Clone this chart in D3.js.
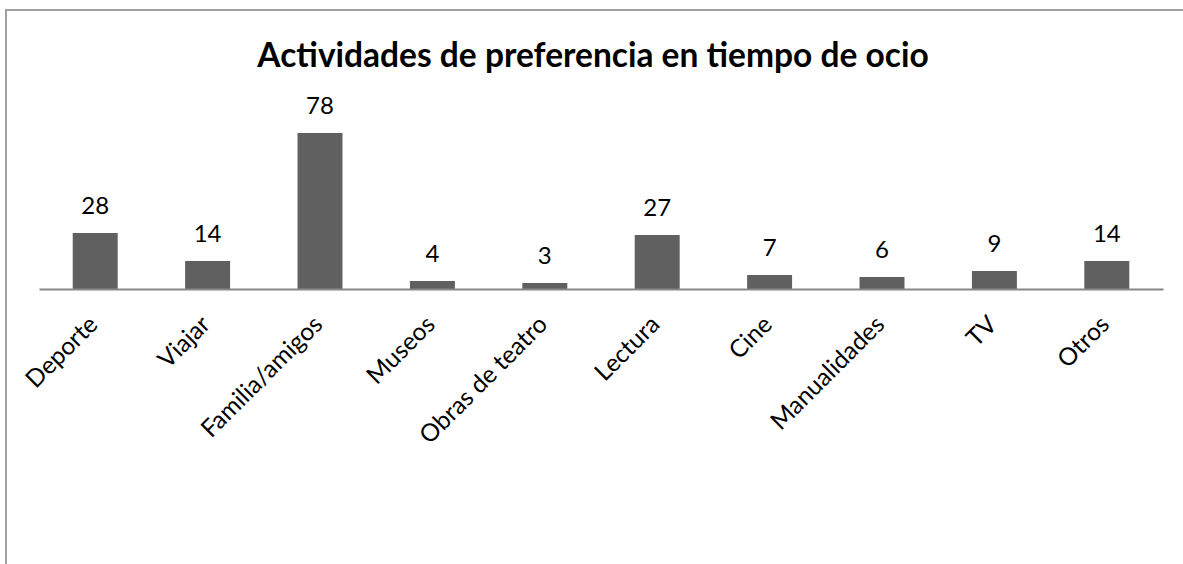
<!DOCTYPE html>
<html>
<head>
  <meta charset="UTF-8">
  <title>Actividades de preferencia</title>
  <style>
    body { margin: 0; background: #fff; }
    svg { display: block; }
  </style>
</head>
<body>
  <script src="https://d3js.org/d3.v7.min.js"></script>
  <script>
  //data
  var categories = ["Deporte", "Viajar", "Familia/amigos", "Museos", "Obras de teatro",
    "Lectura", "Cine", "Manualidades", "TV", "Otros"];
  var values = [28, 14, 78, 4, 3, 27, 7, 6, 9, 14];
  var title = "Actividades de preferencia en tiempo de ocio";

  //variables
  var width = 1183;
  var height = 564;
  var axisY = 289;
  var left = 39;
  var right = 1163;
  var font = "Lato, 'Open Sans', sans-serif";

  var svg = d3.select("body")
    .append("svg")
    .attr("width", width)
    .attr("height", height);

  //frame
  svg.append("rect")
    .attr("x", 6)
    .attr("y", 10)
    .attr("width", width + 20)
    .attr("height", height + 20)
    .attr("fill", "none")
    .attr("stroke", "#a0a0a0")
    .attr("stroke-width", 2);

  //title
  svg.append("text")
    .attr("x", 593)
    .attr("y", 67)
    .attr("text-anchor", "middle")
    .attr("font-family", font)
    .attr("font-weight", "bold")
    .attr("font-size", 33.5)
    .attr("fill", "#000")
    .text(title);

  //scales
  var x = d3.scaleBand()
    .domain(categories)
    .range([left, right])
    .paddingInner(0.6)
    .paddingOuter(0.3);

  var y = d3.scaleLinear()
    .domain([0, 80])
    .range([axisY, axisY - 160]);

  //bars
  svg.selectAll(".bar")
    .data(values)
    .enter()
    .append("rect")
    .attr("class", "bar")
    .attr("x", (d, i) => x(categories[i]))
    .attr("y", d => y(d))
    .attr("width", x.bandwidth())
    .attr("height", d => y(0) - y(d))
    .attr("fill", "#606060");

  //value labels
  svg.selectAll(".val")
    .data(values)
    .enter()
    .append("text")
    .attr("class", "val")
    .attr("x", (d, i) => x(categories[i]) + x.bandwidth() / 2)
    .attr("y", d => y(d) - 19)
    .attr("text-anchor", "middle")
    .attr("font-family", font)
    .attr("font-size", 24)
    .attr("fill", "#000")
    .text(d => d);

  //axis
  var xAxis = d3.axisBottom(x).tickSize(0).tickPadding(0);
  var gx = svg.append("g")
    .attr("transform", `translate(0,${axisY})`)
    .call(xAxis);

  gx.select(".domain")
    .attr("stroke", "#888")
    .attr("stroke-width", 2);

  gx.selectAll(".tick text")
    .attr("font-family", font)
    .attr("font-size", 24.5)
    .attr("fill", "#000")
    .attr("text-anchor", "end")
    .attr("dy", 0)
    .attr("y", 0)
    .attr("transform", "translate(4,37) rotate(-45)");
  </script>
</body>
</html>
